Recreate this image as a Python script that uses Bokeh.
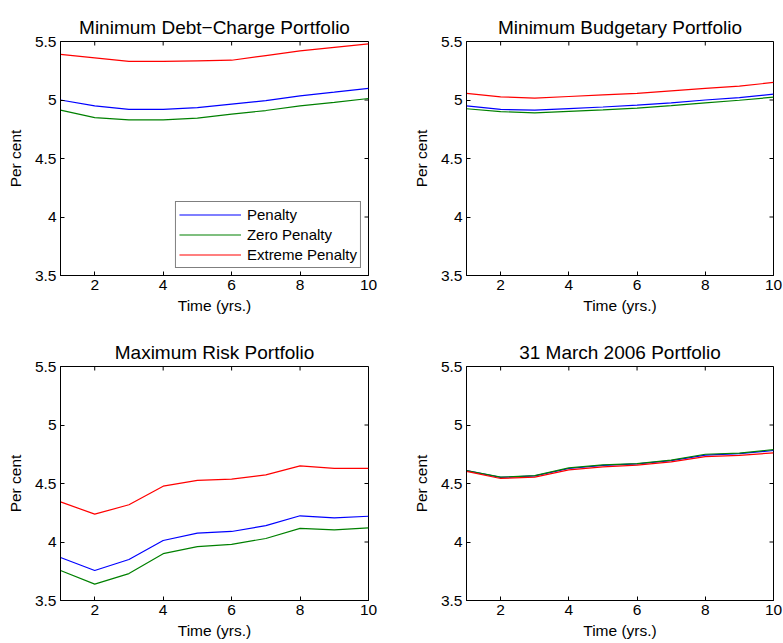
from math import pi
from bokeh.plotting import figure
from bokeh.layouts import column, row
from bokeh.models import Range1d, FixedTicker, Legend, LegendItem
from bokeh.embed import file_html
from bokeh.resources import INLINE

# ---------------- data ----------------
years = [1, 2, 3, 4, 5, 6, 7, 8, 9, 10]

series_names = ["Penalty", "Zero Penalty", "Extreme Penalty"]
series_colors = ["#0000ff", "#008000", "#ff0000"]

titles = ["Minimum Debt\u2212Charge Portfolio", "Minimum Budgetary Portfolio",
          "Maximum Risk Portfolio", "31 March 2006 Portfolio"]

debt_penalty = [5.00, 4.95, 4.92, 4.92, 4.935, 4.965, 4.995, 5.035, 5.067, 5.10]
debt_zero = [4.913, 4.85, 4.83, 4.83, 4.845, 4.88, 4.91, 4.95, 4.98, 5.013]
debt_extreme = [5.39, 5.36, 5.33, 5.33, 5.335, 5.34, 5.38, 5.42, 5.45, 5.48]

budget_penalty = [4.95, 4.92, 4.913, 4.927, 4.94, 4.956, 4.975, 5.00, 5.02, 5.05]
budget_zero = [4.925, 4.90, 4.89, 4.903, 4.915, 4.93, 4.952, 4.976, 4.998, 5.024]
budget_extreme = [5.056, 5.027, 5.016, 5.03, 5.043, 5.056, 5.078, 5.10, 5.118, 5.15]

risk_penalty = [3.868, 3.756, 3.85, 4.013, 4.076, 4.09, 4.14, 4.224, 4.207, 4.22]
risk_zero = [3.756, 3.64, 3.73, 3.90, 3.96, 3.98, 4.03, 4.117, 4.103, 4.12]
risk_extreme = [4.343, 4.238, 4.318, 4.477, 4.526, 4.537, 4.574, 4.651, 4.63, 4.63]

march_penalty = [4.61, 4.552, 4.565, 4.628, 4.655, 4.667, 4.695, 4.743, 4.755, 4.782]
march_zero = [4.611, 4.554, 4.568, 4.634, 4.66, 4.67, 4.70, 4.75, 4.76, 4.79]
march_extreme = [4.603, 4.543, 4.554, 4.617, 4.642, 4.657, 4.685, 4.73, 4.74, 4.762]

x_ticks = [2, 4, 6, 8, 10]
x_tick_labels = ["2", "4", "6", "8", "10"]
y_ticks = [3.5, 4.0, 4.5, 5.0, 5.5]
y_tick_labels = ["3.5", "4", "4.5", "5", "5.5"]
x_limits = (1, 10)
y_limits = (3.5, 5.5)

x_label = "Time (yrs.)"
y_label = "Per cent"

FONT = "Liberation Sans"
LBL = "15.5px"


def style_axis(ax, ticks, labels):
    ax.ticker = FixedTicker(ticks=ticks)
    ax.major_label_overrides = {float(t): l for t, l in zip(ticks, labels)}
    ax.major_tick_in = 4
    ax.major_tick_out = 0
    ax.minor_tick_line_color = None
    ax.axis_line_color = "black"
    ax.major_tick_line_color = "black"
    ax.major_label_text_font = FONT
    ax.major_label_text_color = "black"
    ax.major_label_text_font_size = LBL
    ax.major_label_standoff = 4
    ax.axis_label_text_font = FONT
    ax.axis_label_text_font_size = LBL
    ax.axis_label_text_font_style = "normal"
    ax.axis_label_text_color = "black"


def make_panel(title, data, left_col, top_row, legend=False):
    if left_col:
        w, bl, br = 390, 60, 22
    else:
        w, bl, br = 393, 76, 10
    if top_row:
        h, bt, bb = 320, 41, 45
    else:
        h, bt, bb = 323, 46, 43
    p = figure(width=w, height=h, output_backend="svg", toolbar_location=None,
               x_range=Range1d(*x_limits), y_range=Range1d(*y_limits),
               min_border_left=bl, min_border_right=br,
               min_border_top=bt, min_border_bottom=bb)
    p.title.text = title
    p.title.text_font = FONT
    p.title.text_font_size = "19px"
    p.title.text_font_style = "normal"
    p.title.text_color = "black"
    p.title.align = "center"
    p.title.standoff = 8
    p.xgrid.visible = False
    p.ygrid.visible = False
    p.outline_line_color = "black"
    p.outline_line_alpha = 1.0
    p.background_fill_color = "white"
    p.border_fill_color = "white"

    style_axis(p.xaxis[0], x_ticks, x_tick_labels)
    p.xaxis[0].axis_label = x_label
    p.xaxis[0].axis_label_standoff = 4
    style_axis(p.yaxis[0], y_ticks, y_tick_labels)
    p.yaxis[0].axis_label = y_label
    p.yaxis[0].axis_label_standoff = 8

    # inward ticks on the top and right edges of the box (MATLAB style)
    p.ray(x=x_ticks, y=[y_limits[1]] * len(x_ticks), length=4, length_units="screen",
          angle=-pi / 2, line_color="black", line_width=1)
    p.ray(x=[x_limits[1]] * len(y_ticks), y=y_ticks, length=4, length_units="screen",
          angle=pi, line_color="black", line_width=1)

    items = []
    for name, color, vals in zip(series_names, series_colors, data):
        r = p.line(years, vals, line_color=color, line_width=1.2)
        items.append(LegendItem(label=name, renderers=[r]))

    if legend:
        lg = Legend(items=items, location="bottom_right")
        lg.margin = 7
        lg.padding = 3
        lg.spacing = 1
        lg.glyph_width = 62
        lg.glyph_height = 19
        lg.label_height = 19
        lg.label_standoff = 6
        lg.label_text_font = FONT
        lg.label_text_font_size = "15px"
        lg.label_text_color = "black"
        lg.border_line_color = "black"
        lg.border_line_width = 1
        lg.background_fill_color = "white"
        lg.background_fill_alpha = 1.0
        p.add_layout(lg, "center")
    return p


p1 = make_panel(titles[0], [debt_penalty, debt_zero, debt_extreme], True, True, legend=True)
p2 = make_panel(titles[1], [budget_penalty, budget_zero, budget_extreme], False, True)
p3 = make_panel(titles[2], [risk_penalty, risk_zero, risk_extreme], True, False)
p4 = make_panel(titles[3], [march_penalty, march_zero, march_extreme], False, False)

layout = column(row(p1, p2), row(p3, p4))

with open("out.html", "w") as f:
    f.write(file_html(layout, INLINE))
